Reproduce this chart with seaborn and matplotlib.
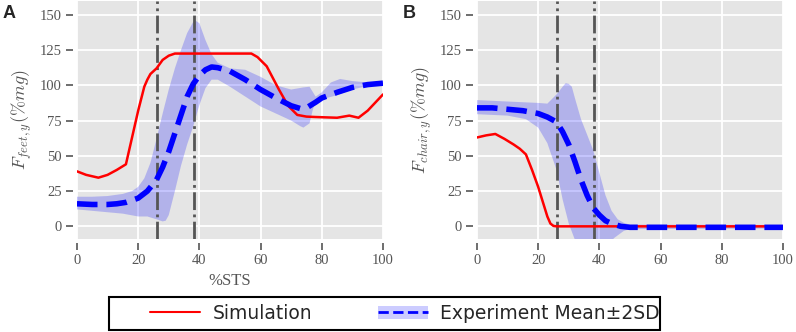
import numpy as np
import seaborn as sns
import matplotlib.pyplot as plt
from matplotlib.lines import Line2D
from matplotlib.patches import Patch, Rectangle

# Panel A: vertical force at the feet (%mg) over %STS
feet_sim_x = [0, 3, 7, 10, 13, 16, 18, 20, 22, 23, 24, 26, 28, 30, 32, 35, 45, 57, 59, 62, 66, 69, 72, 75,
              78, 85, 89, 92, 95, 100]
feet_sim_y = [39, 36.5, 34.5, 36.5, 40, 44, 63, 82, 99, 104, 108, 112, 118, 121, 122.5, 122.5, 122.5, 122.5,
              120, 113.5, 97, 85.5, 79, 77.8, 77.5, 77, 78.5, 77, 82, 93.5]
feet_mean_x = [0, 5, 10, 13, 16, 20, 23, 26, 28, 30, 32, 34, 36, 38, 40, 42, 44, 46, 50, 55, 60, 65, 70, 73,
               75, 78, 80, 85, 90, 95, 100]
feet_mean_y = [16, 15.5, 15.5, 16, 17, 20, 25, 33, 42, 53, 66, 79, 92, 101, 107, 111, 113, 112.5, 110, 104,
               97, 91, 85.5, 83.5, 84, 88, 91, 95, 98.5, 100.5, 101.5]
feet_upper_x = [0, 5, 10, 15, 18, 20, 22, 24, 26, 28, 30, 32, 34, 36, 38, 39, 40, 42, 44, 46, 50, 55, 60, 65,
                70, 74, 76, 78, 80, 83, 86, 90, 95, 100]
feet_upper_y = [21, 21, 21.5, 23, 25, 28, 34, 45, 62, 80, 97, 112, 125, 137, 145, 145.5, 144, 132, 122, 116,
                112, 111, 106, 100, 97, 98.5, 99, 92, 95, 102, 104.5, 103, 102, 103]
feet_lower_x = [0, 5, 10, 15, 20, 23, 26, 28, 29, 30, 32, 34, 36, 38, 40, 42, 44, 46, 50, 55, 60, 65, 70, 73,
                74, 76, 77, 78, 80, 85, 90, 95, 100]
feet_lower_y = [12, 11, 10, 9, 7, 7, 5, 3.5, 4, 8, 25, 43, 58, 71, 86, 98, 104, 104, 99, 92, 85, 80, 75, 71,
                70, 73, 82, 89, 90, 93, 97, 99.5, 100.5]

# Panel B: vertical force at the chair (%mg) over %STS
chair_sim_x = [0, 3, 6, 9, 12, 14, 16, 18, 20, 22, 23, 24, 25, 26, 100]
chair_sim_y = [63, 64.5, 65.5, 62, 58, 55, 51, 40, 28, 14, 7, 2, 0.3, 0, 0]
chair_mean_x = [0, 5, 10, 15, 20, 23, 26, 28, 30, 32, 34, 36, 38, 40, 42, 44, 47, 50, 100]
chair_mean_y = [84, 84, 83, 82, 80, 77.5, 74, 67, 58, 46, 33, 22, 13, 8, 4, 2, 0, -0.7, -0.7]
chair_upper_x = [0, 10, 20, 23, 26, 28, 29, 30, 31, 32, 34, 36, 38, 40, 42, 44, 46, 48, 50, 100]
chair_upper_y = [89.5, 88.5, 87.5, 87, 93.5, 99, 101.5, 101, 99, 91, 76, 65, 54, 38, 22, 11, 5, 2.5, 1.2, 1]
chair_lower_x = [0, 10, 16, 20, 23, 26, 28, 30, 32, 34, 38, 42, 45, 48, 50, 100]
chair_lower_y = [79.5, 78.5, 76, 70, 59, 40, 19, 2, -9.5, -14, -18, -14, -8, -3.2, -2, -1.5]

# phase boundaries (%STS)
phase_x = [26, 38.3]

x_ticks = [0, 20, 40, 60, 80, 100]
y_ticks = [0, 25, 50, 75, 100, 125, 150]

sns.set_theme(style='darkgrid', rc={'axes.facecolor': '#E5E5E5', 'grid.color': 'white',
                                    'grid.linewidth': 1.3})
plt.rcParams['font.family'] = ['Liberation Serif', 'DejaVu Serif']
plt.rcParams['mathtext.fontset'] = 'cm'

GREY = '#555555'


def plot_panel(ax, sim_x, sim_y, mean_x, mean_y, up_x, up_y, lo_x, lo_y, ylabel):
    # +-2SD band as a polygon
    ax.fill(np.concatenate([up_x, lo_x[::-1]]), np.concatenate([up_y, lo_y[::-1]]),
            color='blue', alpha=0.22, lw=0, zorder=2)
    for px in phase_x:
        ax.axvline(px, color=GREY, ls='-.', lw=2, zorder=3)
    sns.lineplot(x=sim_x, y=sim_y, ax=ax, color='red', lw=1.8, estimator=None, sort=False, zorder=4)
    sns.lineplot(x=mean_x, y=mean_y, ax=ax, color='blue', lw=4, ls='--', estimator=None, sort=False,
                 zorder=5)

    ax.set_xlim(0, 100)
    ax.set_ylim(-9, 160)
    ax.set_xticks(x_ticks)
    ax.set_yticks(y_ticks)
    ax.set_ylabel(ylabel, fontsize=13, color=GREY)
    sns.despine(ax=ax, offset=3)
    ax.spines['left'].set_visible(False)
    ax.spines['bottom'].set_visible(False)
    ax.tick_params(bottom=True, left=True, direction='out', length=5, width=1.2, color=GREY,
                   labelcolor=GREY, labelsize=10.5, pad=3)


fig = plt.figure(figsize=(7.96, 3.32), dpi=100)
ax_a = fig.add_axes([0.0967, 0.280, 0.3844, 0.718])
ax_b = fig.add_axes([0.5992, 0.280, 0.3844, 0.718])

plot_panel(ax_a, feet_sim_x, feet_sim_y, feet_mean_x, feet_mean_y,
           np.array(feet_upper_x), np.array(feet_upper_y), np.array(feet_lower_x), np.array(feet_lower_y),
           r'$F_{feet,y}(\%mg)$')
plot_panel(ax_b, chair_sim_x, chair_sim_y, chair_mean_x, chair_mean_y,
           np.array(chair_upper_x), np.array(chair_upper_y), np.array(chair_lower_x), np.array(chair_lower_y),
           r'$F_{chair,y}(\%mg)$')
ax_a.set_xlabel('%STS', fontsize=12, color=GREY)

fig.text(0.003, 0.985, 'A', fontsize=13, fontweight='bold', va='top', family='Liberation Sans')
fig.text(0.506, 0.985, 'B', fontsize=13, fontweight='bold', va='top', family='Liberation Sans')

# legend
sim_handle = Line2D([], [], color='red', lw=1.5)
exp_handle = (Patch(facecolor='blue', alpha=0.2, lw=0), Line2D([], [], color='blue', lw=2, ls='--'))
fig.legend([sim_handle, exp_handle], ['Simulation', 'Experiment Mean±2SD'], loc='center left',
           bbox_to_anchor=(141 / 796, 0.0557), ncol=2, frameon=False, borderpad=0,
           handlelength=2.67, handletextpad=0.64, columnspacing=3.5,
           prop={'family': 'DejaVu Sans', 'size': 13.5})
fig.add_artist(Rectangle((109 / 796, 0.006), 551 / 796, 0.0994, transform=fig.transFigure,
                         fill=False, edgecolor='black', lw=1.5))

fig.savefig('out.png', dpi=100)
